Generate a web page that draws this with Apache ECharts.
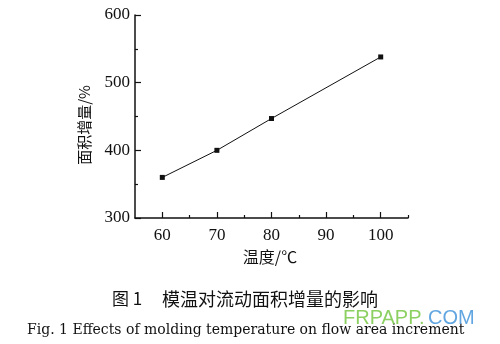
<!DOCTYPE html>
<html lang="zh">
<head>
<meta charset="UTF-8">
<title>模温对流动面积增量的影响</title>
<script src="https://cdn.jsdelivr.net/npm/echarts@6/dist/echarts.min.js"></script>
<style>
  html, body { margin: 0; padding: 0; background: #fff; }
  #main { width: 500px; height: 344px; }
</style>
</head>
<body>
<div id="main"></div>
<script>
// 数据
var temps = [60, 70, 80, 100];           // 温度/℃
var increments = [360, 400, 447, 538];    // 面积增量/%
var xMajorTicks = [60, 70, 80, 90, 100];
var xMinorTicks = [65, 75, 85, 95, 105];

var serif = '"Liberation Serif", "DejaVu Serif", serif';
var cjk = '"Noto Sans CJK SC", sans-serif';

var chart = echarts.init(document.getElementById('main'));

var option = {
  animation: false,
  backgroundColor: '#fff',
  grid: { left: 135, right: 92, top: 15, bottom: 126 },
  xAxis: [{
    type: 'value',
    min: 55, max: 105, interval: 5,
    axisLine: { lineStyle: { color: '#111', width: 1.5 } },
    axisTick: { show: true, inside: true, length: 6, customValues: xMajorTicks, lineStyle: { color: '#111', width: 1.2 } },
    axisLabel: { customValues: xMajorTicks, color: '#111', fontFamily: serif, fontSize: 17, margin: 9 },
    splitLine: { show: false }
  }, {
    type: 'value',
    min: 55, max: 105, interval: 5,
    position: 'bottom',
    axisLine: { show: false },
    axisTick: { show: true, inside: true, length: 3, customValues: xMinorTicks, lineStyle: { color: '#111', width: 1.2 } },
    axisLabel: { show: false },
    splitLine: { show: false }
  }],
  yAxis: {
    type: 'value',
    min: 300, max: 600, interval: 100,
    axisLine: { show: true, lineStyle: { color: '#111', width: 1.5 } },
    axisTick: { show: true, inside: true, length: 6, lineStyle: { color: '#111', width: 1.2 } },
    minorTick: { show: true, splitNumber: 2, length: 3, lineStyle: { color: '#111', width: 1.2 } },
    axisLabel: { color: '#111', fontFamily: serif, fontSize: 17, margin: 5 },
    splitLine: { show: false }
  },
  series: [{
    type: 'line',
    data: temps.map(function (t, i) { return [t, increments[i]]; }),
    symbol: 'rect',
    symbolSize: 5,
    itemStyle: { color: '#111' },
    lineStyle: { color: '#111', width: 1 }
  }],
  graphic: [
    {
      type: 'text', x: 84, y: 125, rotation: Math.PI / 2,
      style: { text: '面积增量/%', font: '15px ' + cjk, fill: '#111', textAlign: 'center', textVerticalAlign: 'middle' }
    },
    {
      type: 'text', x: 270, y: 257,
      style: { text: '温度/℃', font: '16px ' + cjk, fill: '#111', textAlign: 'center', textVerticalAlign: 'middle' }
    },
    {
      type: 'text', x: 112, y: 299,
      style: { text: '图 1', font: '17px ' + cjk, fill: '#111', textVerticalAlign: 'middle' }
    },
    {
      type: 'text', x: 162, y: 299,
      style: { text: '模温对流动面积增量的影响', font: '18px ' + cjk, fill: '#111', textVerticalAlign: 'middle' }
    },
    {
      type: 'text', x: 27, y: 330,
      style: { text: 'Fig. 1 Effects of molding temperature on flow area increment', font: '14px "DejaVu Serif", serif', fill: '#111', textVerticalAlign: 'middle' }
    },
    {
      type: 'text', x: 343, y: 318,
      style: { text: 'FRPAPP.', font: '20px "Liberation Sans", Arial, sans-serif', fill: 'rgba(120,200,70,0.85)', textVerticalAlign: 'middle' }
    },
    {
      type: 'text', x: 428, y: 318,
      style: { text: 'COM', font: '20px "Liberation Sans", Arial, sans-serif', fill: 'rgba(70,150,220,0.85)', textVerticalAlign: 'middle' }
    }
  ]
};

chart.setOption(option);
</script>
</body>
</html>
